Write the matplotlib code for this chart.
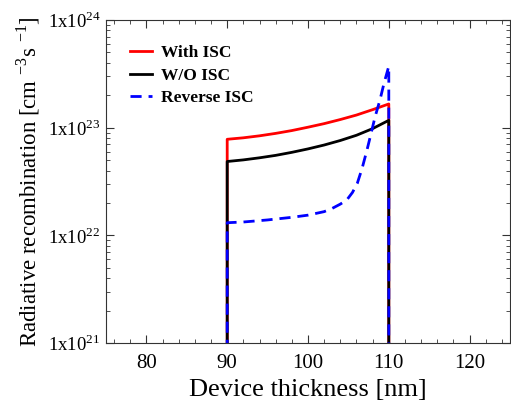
import numpy as np
import matplotlib
matplotlib.use("Agg")
import matplotlib.pyplot as plt
from matplotlib.ticker import FixedLocator, MultipleLocator, LogLocator, FuncFormatter, NullFormatter

plt.rcParams["font.family"] = "Liberation Serif"
plt.rcParams["mathtext.fontset"] = "custom"
plt.rcParams["mathtext.rm"] = "Liberation Serif"

# thickness positions (nm) and radiative recombination (cm^-3 s^-1)
x_with = [90, 90, 92, 94, 96, 98, 100, 102, 104, 106, 108, 110, 110]
y_with = [1e15, 7.8e22, 8.05e22, 8.4e22, 8.85e22, 9.4e22, 1.01e23, 1.09e23, 1.19e23, 1.31e23, 1.47e23, 1.66e23, 1e15]

x_wo = [90, 90, 92, 94, 96, 98, 100, 102, 104, 106, 108, 110, 110]
y_wo = [1e15, 4.85e22, 5.02e22, 5.25e22, 5.53e22, 5.9e22, 6.35e22, 6.9e22, 7.6e22, 8.5e22, 9.8e22, 1.17e23, 1e15]

x_rev = [90, 90, 92, 95, 98, 100, 102, 103, 104, 104.8, 105.5, 106.1, 106.7, 107.3, 107.8, 108.3, 108.9, 109.4, 109.9, 110, 110]
y_rev = [1e15, 1.31e22, 1.33e22, 1.39e22, 1.47e22, 1.54e22, 1.66e22, 1.78e22, 1.95e22, 2.13e22, 2.5e22, 3.04e22, 4.2e22, 6.2e22, 8.8e22, 1.26e23, 1.8e23, 2.57e23, 3.5e23, 3.7e23, 1e15]

fig = plt.figure(figsize=(5.11, 4.04), dpi=100)
ax = fig.add_axes([106 / 511, 1 - 343 / 404, (510 - 106) / 511, (343 - 20) / 404])

ax.plot(x_with, y_with, color="red", lw=2, label="With ISC")
ax.plot(x_wo, y_wo, color="black", lw=2, label="W/O ISC")
ax.plot(x_rev, y_rev, color="blue", lw=2, ls=(0, (4, 2.5)), label="Reverse ISC")

ax.set_yscale("log")
ax.set_xlim(75, 125)
ax.set_ylim(1e21, 1e24)
ax.xaxis.set_major_locator(MultipleLocator(10))
ax.xaxis.set_minor_locator(MultipleLocator(2))
ax.yaxis.set_major_locator(FixedLocator([1e21, 1e22, 1e23, 1e24]))
ax.yaxis.set_minor_locator(LogLocator(base=10, subs=np.arange(2, 10)))
ax.yaxis.set_minor_formatter(NullFormatter())
ax.yaxis.set_major_formatter(FuncFormatter(lambda v, p: r"1x10$^{%d}$" % round(np.log10(v))))

ax.tick_params(which="both", direction="in", top=True, right=True, colors="#333333", labelcolor="black")
ax.tick_params(axis="x", labelsize=15, pad=8)
ax.tick_params(axis="y", labelsize=13.5, pad=4)
ax.tick_params(which="major", length=6)
ax.tick_params(which="minor", length=3)
for s in ax.spines.values():
    s.set_color("#333333")

ax.set_xlabel("Device thickness [nm]", fontsize=19, labelpad=4)
ax.set_ylabel(r"Radiative recombination [cm $^{-3}$s $^{-1}$]", fontsize=16.5, labelpad=4)

ax.legend(loc="upper left", frameon=False, prop={"weight": "bold", "size": 12.5},
          handlelength=1.3, handletextpad=0.5, labelspacing=0.35,
          bbox_to_anchor=(0.02, 0.97))

fig.savefig("out.png", dpi=100)
